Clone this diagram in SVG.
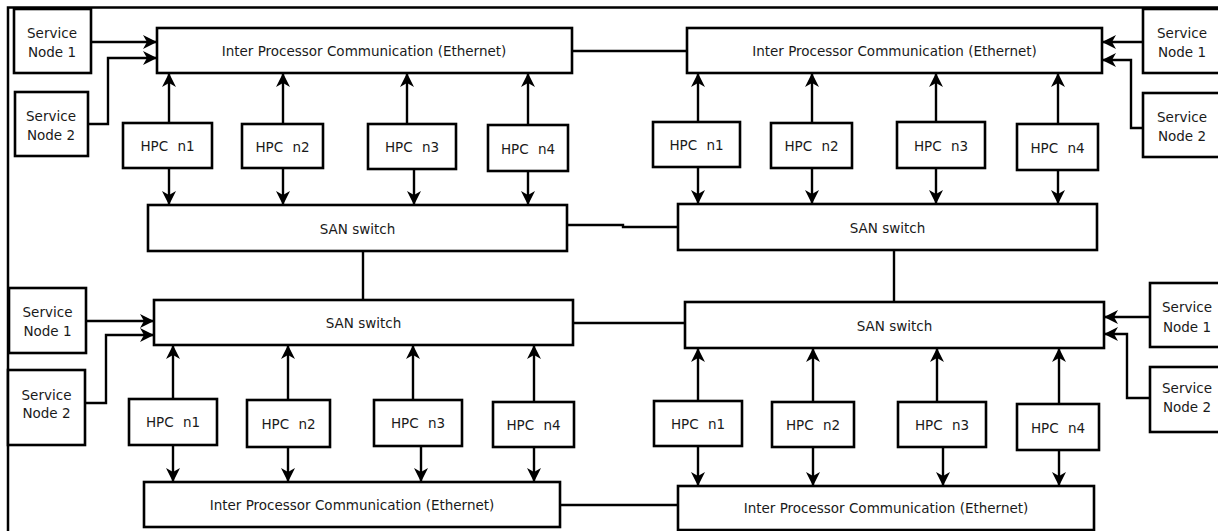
<svg xmlns="http://www.w3.org/2000/svg" width="1218" height="531" viewBox="0 0 1218 531">
<style>
.b{fill:#fff;stroke:#000;stroke-width:2.6}
.t{font-family:"DejaVu Sans",Verdana,sans-serif;font-size:13.5px;fill:#1a1a1a;text-anchor:middle}
.h{word-spacing:5px}
.c{fill:none;stroke:#000;stroke-width:2.4}
.a{fill:none;stroke:#000;stroke-width:2.4;marker-end:url(#ah)}
</style>
<defs>
<marker id="ah" markerUnits="userSpaceOnUse" markerWidth="16" markerHeight="16" viewBox="0 0 16 16" refX="14" refY="8" orient="auto">
<path d="M0,1 L14,8 L0,15 L4,8 z" fill="#000"/>
</marker>
</defs>
<rect width="1218" height="531" fill="#fff"/>
<path d="M8,531 V7.5 H1218" fill="none" stroke="#000" stroke-width="2.5"/>

<g id="connectors">
<path class="a" d="M91,42 H157"/>
<path class="a" d="M88,124 H108 V58 H157"/>
<path class="a" d="M169,123 V73"/>
<path class="a" d="M283,124 V73"/>
<path class="a" d="M407,124 V73"/>
<path class="a" d="M528,125 V73"/>
<path class="a" d="M169,168 V205"/>
<path class="a" d="M283,168 V205"/>
<path class="a" d="M414,169 V205"/>
<path class="a" d="M528,171 V205"/>
<path class="c" d="M572,51 H687"/>
<path class="a" d="M1143,42 H1102"/>
<path class="a" d="M1143,128 H1131 V60 H1102"/>
<path class="a" d="M698,122 V73"/>
<path class="a" d="M812,123 V73"/>
<path class="a" d="M936,122 V73"/>
<path class="a" d="M1058,124 V73"/>
<path class="a" d="M698,167 V204"/>
<path class="a" d="M812,168 V204"/>
<path class="a" d="M936,168 V204"/>
<path class="a" d="M1058,170 V204"/>
<path class="c" d="M567,225 H623 V227 H678"/>
<path class="c" d="M363,251 V300"/>
<path class="c" d="M894,250 V302"/>
<path class="c" d="M573,323 H685"/>
<path class="a" d="M86,321 H154"/>
<path class="a" d="M85,403 H106 V335 H154"/>
<path class="a" d="M173,399 V345"/>
<path class="a" d="M288,400 V345"/>
<path class="a" d="M413,400 V345"/>
<path class="a" d="M534,402 V345"/>
<path class="a" d="M173,445 V482"/>
<path class="a" d="M288,447 V482"/>
<path class="a" d="M421,446 V482"/>
<path class="a" d="M534,447 V482"/>
<path class="c" d="M560,505 H678"/>
<path class="a" d="M1150,317 H1104"/>
<path class="a" d="M1150,398 H1127 V334 H1104"/>
<path class="a" d="M698,401 V348"/>
<path class="a" d="M813,402 V348"/>
<path class="a" d="M937,402 V348"/>
<path class="a" d="M1059,404 V348"/>
<path class="a" d="M698,446 V486"/>
<path class="a" d="M813,447 V486"/>
<path class="a" d="M943,447 V486"/>
<path class="a" d="M1059,450 V486"/>
</g>

<g id="tl-sn1"><rect class="b" x="14" y="9" width="77" height="64"/><text class="t" x="52" y="38">Service</text><text class="t" x="52" y="57">Node 1</text></g>
<g id="tl-sn2"><rect class="b" x="15" y="92" width="73" height="64"/><text class="t" x="51" y="121">Service</text><text class="t" x="51" y="140">Node 2</text></g>
<g id="tl-ipc"><rect class="b" x="157" y="28" width="415" height="45"/><text class="t" x="364" y="56">Inter Processor Communication (Ethernet)</text></g>
<g id="tl-n1"><rect class="b" x="123" y="123" width="89" height="45"/><text class="t h" x="167.5" y="151">HPC n1</text></g>
<g id="tl-n2"><rect class="b" x="242" y="124" width="81" height="44"/><text class="t h" x="282.5" y="151.5">HPC n2</text></g>
<g id="tl-n3"><rect class="b" x="368" y="124" width="88" height="45"/><text class="t h" x="412" y="152">HPC n3</text></g>
<g id="tl-n4"><rect class="b" x="488" y="125" width="80" height="46"/><text class="t h" x="528" y="153.5">HPC n4</text></g>
<g id="tl-san"><rect class="b" x="148" y="205" width="419" height="46"/><text class="t" x="357.5" y="233.5">SAN switch</text></g>

<g id="tr-sn1"><rect class="b" x="1143" y="9" width="82" height="64"/><text class="t" x="1182" y="38">Service</text><text class="t" x="1182" y="57">Node 1</text></g>
<g id="tr-sn2"><rect class="b" x="1143" y="93" width="82" height="64"/><text class="t" x="1182" y="122">Service</text><text class="t" x="1182" y="141">Node 2</text></g>
<g id="tr-ipc"><rect class="b" x="687" y="28" width="415" height="45"/><text class="t" x="894.5" y="56">Inter Processor Communication (Ethernet)</text></g>
<g id="tr-n1"><rect class="b" x="653" y="122" width="87" height="45"/><text class="t h" x="696.5" y="150">HPC n1</text></g>
<g id="tr-n2"><rect class="b" x="771" y="123" width="81" height="45"/><text class="t h" x="811.5" y="151">HPC n2</text></g>
<g id="tr-n3"><rect class="b" x="897" y="122" width="88" height="46"/><text class="t h" x="941" y="150.5">HPC n3</text></g>
<g id="tr-n4"><rect class="b" x="1017" y="124" width="81" height="46"/><text class="t h" x="1057.5" y="152.5">HPC n4</text></g>
<g id="tr-san"><rect class="b" x="678" y="204" width="419" height="46"/><text class="t" x="887.5" y="232.5">SAN switch</text></g>

<g id="bl-sn1"><rect class="b" x="9" y="288" width="77" height="65"/><text class="t" x="47.5" y="317">Service</text><text class="t" x="47.5" y="336">Node 1</text></g>
<g id="bl-sn2"><rect class="b" x="8" y="370" width="77" height="75"/><text class="t" x="46.5" y="400">Service</text><text class="t" x="46.5" y="418">Node 2</text></g>
<g id="bl-san"><rect class="b" x="154" y="300" width="419" height="45"/><text class="t" x="363.5" y="328">SAN switch</text></g>
<g id="bl-n1"><rect class="b" x="129" y="399" width="88" height="46"/><text class="t h" x="173" y="427">HPC n1</text></g>
<g id="bl-n2"><rect class="b" x="247" y="400" width="83" height="47"/><text class="t h" x="288.5" y="428.5">HPC n2</text></g>
<g id="bl-n3"><rect class="b" x="374" y="400" width="88" height="46"/><text class="t h" x="418" y="428">HPC n3</text></g>
<g id="bl-n4"><rect class="b" x="493" y="402" width="81" height="45"/><text class="t h" x="533.5" y="429.5">HPC n4</text></g>
<g id="bl-ipc"><rect class="b" x="144" y="482" width="416" height="45"/><text class="t" x="352" y="510">Inter Processor Communication (Ethernet)</text></g>

<g id="br-sn1"><rect class="b" x="1150" y="283" width="76" height="64"/><text class="t" x="1187" y="312">Service</text><text class="t" x="1187" y="332">Node 1</text></g>
<g id="br-sn2"><rect class="b" x="1150" y="367" width="76" height="65"/><text class="t" x="1187" y="393">Service</text><text class="t" x="1187" y="412">Node 2</text></g>
<g id="br-san"><rect class="b" x="685" y="302" width="419" height="46"/><text class="t" x="894.5" y="330.5">SAN switch</text></g>
<g id="br-n1"><rect class="b" x="654" y="401" width="88" height="45"/><text class="t h" x="698" y="429">HPC n1</text></g>
<g id="br-n2"><rect class="b" x="772" y="402" width="82" height="45"/><text class="t h" x="813" y="430">HPC n2</text></g>
<g id="br-n3"><rect class="b" x="898" y="402" width="88" height="45"/><text class="t h" x="942" y="430">HPC n3</text></g>
<g id="br-n4"><rect class="b" x="1017" y="404" width="82" height="46"/><text class="t h" x="1058" y="432.5">HPC n4</text></g>
<g id="br-ipc"><rect class="b" x="678" y="486" width="416" height="44"/><text class="t" x="886" y="513">Inter Processor Communication (Ethernet)</text></g>
</svg>
